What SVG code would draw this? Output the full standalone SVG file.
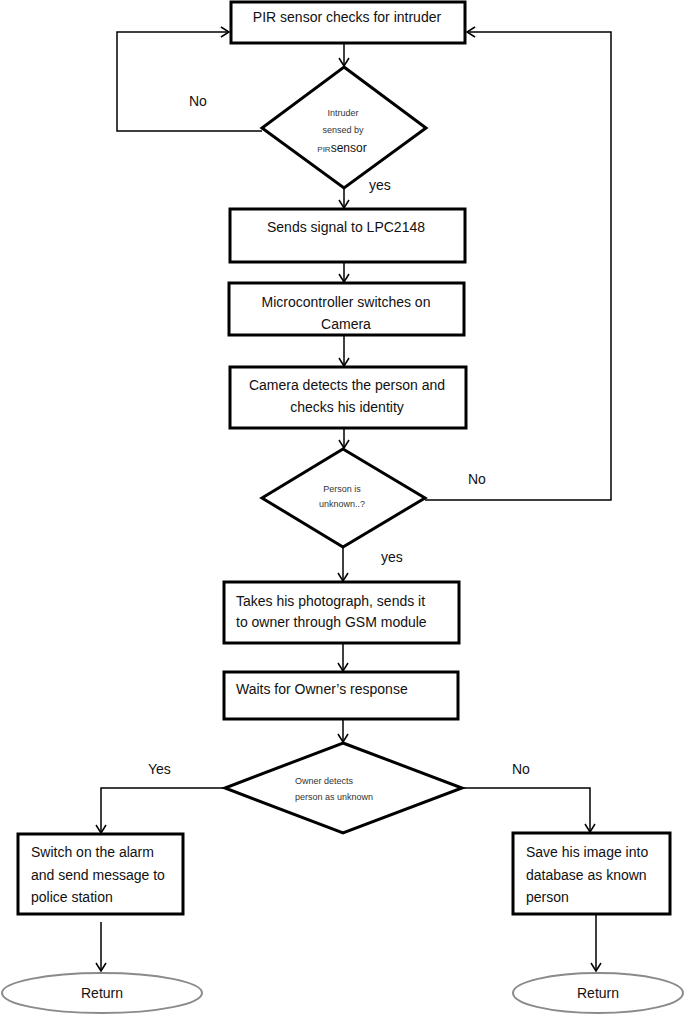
<svg xmlns="http://www.w3.org/2000/svg" width="685" height="1020" viewBox="0 0 685 1020">
<style>
.box{fill:#fff;stroke:#000;stroke-width:3}
.dia{fill:#fff;stroke:#000;stroke-width:3}
.term{fill:#fff;stroke:#8a8a8a;stroke-width:2}
.con{fill:none;stroke:#000;stroke-width:1.5}
.t{font-family:"Liberation Sans",Arial,sans-serif;font-size:14px;fill:#111}
.s{font-family:"Liberation Sans",Arial,sans-serif;font-size:9px;fill:#333}
.c{text-anchor:middle}
</style>
<defs>
<marker id="arr" markerWidth="12" markerHeight="12" refX="9" refY="6" orient="auto" markerUnits="userSpaceOnUse">
<path d="M1,1 L9,6 L1,11" fill="none" stroke="#000" stroke-width="1.5"/>
</marker>
</defs>
<rect width="685" height="1020" fill="#fff"/>
<g id="connectors">
<path class="con" d="M344,43 V66" marker-end="url(#arr)"/>
<path class="con" d="M262,131 H117 V32 H229" marker-end="url(#arr)"/>
<path class="con" d="M344,188 V208" marker-end="url(#arr)"/>
<path class="con" d="M344,262 V282" marker-end="url(#arr)"/>
<path class="con" d="M344,335 V366" marker-end="url(#arr)"/>
<path class="con" d="M344,428 V448" marker-end="url(#arr)"/>
<path class="con" d="M425,500 H611 V32 H467" marker-end="url(#arr)"/>
<path class="con" d="M343,547 V581" marker-end="url(#arr)"/>
<path class="con" d="M343,643 V671" marker-end="url(#arr)"/>
<path class="con" d="M343,719 V742" marker-end="url(#arr)"/>
<path class="con" d="M225,788 H101 V833" marker-end="url(#arr)"/>
<path class="con" d="M462,788 H590 V832" marker-end="url(#arr)"/>
<path class="con" d="M101,922 V971" marker-end="url(#arr)"/>
<path class="con" d="M596,914 V971" marker-end="url(#arr)"/>
<text class="t" x="189" y="106">No</text>
<text class="t" x="369" y="190">yes</text>
<text class="t" x="468" y="484">No</text>
<text class="t" x="381" y="562">yes</text>
<text class="t" x="148" y="774">Yes</text>
<text class="t" x="512" y="774">No</text>
</g>
<g id="n1">
<rect class="box" x="231" y="2" width="234" height="41"/>
<text class="t c" x="347" y="22">PIR sensor checks for intruder</text>
</g>
<g id="n2">
<polygon class="dia" points="344,67 426,128 344,188 262,128"/>
<text class="s c" x="343" y="116">Intruder</text>
<text class="s c" x="343" y="133">sensed by</text>
<text class="s c" x="342" y="152"><tspan style="font-size:8px">PIR</tspan><tspan style="font-size:12px;fill:#111">sensor</tspan></text>
</g>
<g id="n3">
<rect class="box" x="230" y="209" width="235" height="53"/>
<text class="t c" x="346" y="232">Sends signal to LPC2148</text>
</g>
<g id="n4">
<rect class="box" x="229" y="283" width="235" height="52"/>
<text class="t c" x="346" y="307">Microcontroller switches on</text>
<text class="t c" x="346" y="329">Camera</text>
</g>
<g id="n5">
<rect class="box" x="230" y="367" width="236" height="61"/>
<text class="t c" x="347" y="390">Camera detects the person and</text>
<text class="t c" x="347" y="412">checks his identity</text>
</g>
<g id="n6">
<polygon class="dia" points="343,449 425,498 343,547 262,498"/>
<text class="s c" x="342" y="492">Person is</text>
<text class="s c" x="342" y="507">unknown..?</text>
</g>
<g id="n7">
<rect class="box" x="224" y="582" width="235" height="61"/>
<text class="t" x="236" y="606">Takes his photograph, sends it</text>
<text class="t" x="236" y="627">to owner through GSM module</text>
</g>
<g id="n8">
<rect class="box" x="224" y="672" width="234" height="47"/>
<text class="t" x="236" y="694">Waits for Owner’s response</text>
</g>
<g id="n9">
<polygon class="dia" points="343,743 462,788 343,833 225,788"/>
<text class="s" x="295" y="784">Owner detects</text>
<text class="s" x="295" y="800">person as unknown</text>
</g>
<g id="n10">
<rect class="box" x="18" y="834" width="165" height="80"/>
<text class="t" x="31" y="857">Switch on the alarm</text>
<text class="t" x="31" y="880">and send message to</text>
<text class="t" x="31" y="902">police station</text>
</g>
<g id="n11">
<rect class="box" x="513" y="833" width="157" height="81"/>
<text class="t" x="526" y="857">Save his image into</text>
<text class="t" x="526" y="880">database as known</text>
<text class="t" x="526" y="902">person</text>
</g>
<g id="n12">
<ellipse class="term" cx="102" cy="993" rx="100" ry="20"/>
<text class="t c" x="102" y="998">Return</text>
</g>
<g id="n13">
<ellipse class="term" cx="598" cy="993" rx="85" ry="20"/>
<text class="t c" x="598" y="998">Return</text>
</g>
</svg>
